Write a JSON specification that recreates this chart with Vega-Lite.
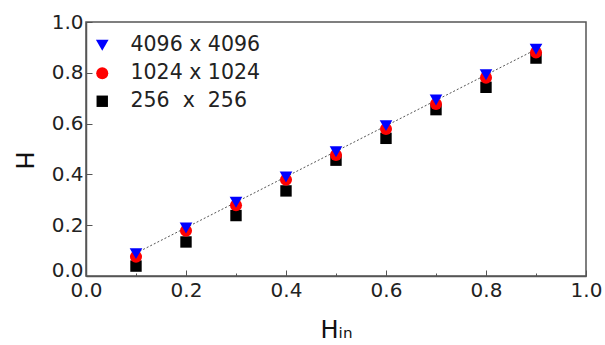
{
  "$schema": "https://vega.github.io/schema/vega-lite/v6.json",
  "width": 500,
  "height": 254,
  "autosize": {"type": "none"},
  "padding": {"left": 86, "top": 22, "right": 19, "bottom": 69},
  "background": "white",
  "config": {
    "font": "DejaVu Sans",
    "view": {"stroke": "#555", "strokeWidth": 1.5},
    "axis": {
      "grid": false,
      "domainColor": "#555",
      "domainWidth": 1.5,
      "tickColor": "#555",
      "labelColor": "#222",
      "labelFontSize": 20,
      "titleFontSize": 24,
      "titleFontWeight": "normal",
      "titleColor": "#111",
      "labelFont": "DejaVu Sans",
      "titleFont": "DejaVu Sans"
    },
    "legend": {
      "title": null,
      "orient": "none",
      "legendX": 6,
      "legendY": 13,
      "labelFontSize": 20.5,
      "labelColor": "#222",
      "labelFont": "DejaVu Sans",
      "symbolStrokeWidth": 0,
      "labelOffset": 18,
      "rowPadding": 7
    }
  },
  "datasets": {
    "pts": [
      {"hin": 0.1, "h": 0.039, "s": "256 x 256"},
      {"hin": 0.2, "h": 0.134, "s": "256 x 256"},
      {"hin": 0.3, "h": 0.238, "s": "256 x 256"},
      {"hin": 0.4, "h": 0.335, "s": "256 x 256"},
      {"hin": 0.5, "h": 0.456, "s": "256 x 256"},
      {"hin": 0.6, "h": 0.542, "s": "256 x 256"},
      {"hin": 0.7, "h": 0.655, "s": "256 x 256"},
      {"hin": 0.8, "h": 0.743, "s": "256 x 256"},
      {"hin": 0.9, "h": 0.858, "s": "256 x 256"},
      {"hin": 0.1, "h": 0.076, "s": "1024 x 1024"},
      {"hin": 0.2, "h": 0.178, "s": "1024 x 1024"},
      {"hin": 0.3, "h": 0.279, "s": "1024 x 1024"},
      {"hin": 0.4, "h": 0.379, "s": "1024 x 1024"},
      {"hin": 0.5, "h": 0.476, "s": "1024 x 1024"},
      {"hin": 0.6, "h": 0.579, "s": "1024 x 1024"},
      {"hin": 0.7, "h": 0.677, "s": "1024 x 1024"},
      {"hin": 0.8, "h": 0.781, "s": "1024 x 1024"},
      {"hin": 0.9, "h": 0.880, "s": "1024 x 1024"},
      {"hin": 0.1, "h": 0.088, "s": "4096 x 4096"},
      {"hin": 0.2, "h": 0.189, "s": "4096 x 4096"},
      {"hin": 0.3, "h": 0.290, "s": "4096 x 4096"},
      {"hin": 0.4, "h": 0.390, "s": "4096 x 4096"},
      {"hin": 0.5, "h": 0.489, "s": "4096 x 4096"},
      {"hin": 0.6, "h": 0.592, "s": "4096 x 4096"},
      {"hin": 0.7, "h": 0.693, "s": "4096 x 4096"},
      {"hin": 0.8, "h": 0.792, "s": "4096 x 4096"},
      {"hin": 0.9, "h": 0.893, "s": "4096 x 4096"}
    ],
    "fit": [
      {"hin": 0.1, "h": 0.09},
      {"hin": 0.9, "h": 0.892}
    ]
  },
  "layer": [
    {
      "data": {"name": "fit"},
      "mark": {"type": "line", "color": "#555", "strokeWidth": 1, "strokeDash": [2, 2]},
      "encoding": {
        "x": {"field": "hin", "type": "quantitative"},
        "y": {"field": "h", "type": "quantitative"}
      }
    },
    {
      "data": {"name": "pts"},
      "mark": {"type": "point", "filled": true, "opacity": 1},
      "encoding": {
        "x": {
          "field": "hin",
          "type": "quantitative",
          "scale": {"domain": [0, 1], "nice": false},
          "axis": {
            "title": "Hᵢₙ",
            "values": [0, 0.1, 0.2, 0.3, 0.4, 0.5, 0.6, 0.7, 0.8, 0.9, 1.0],
            "format": ".1f",
            "labelExpr": "round(datum.value*10) % 2 === 0 ? datum.label : ''",
            "tickSize": {"condition": {"test": "round(datum.value*10) % 2 === 0", "value": -6}, "value": -3},
            "labelPadding": 10,
            "labelFlush": false,
            "titlePadding": 18
          }
        },
        "y": {
          "field": "h",
          "type": "quantitative",
          "scale": {"domain": [0, 1], "nice": false},
          "axis": {
            "title": "H",
            "titleAngle": 90,
            "titleY": 138,
            "values": [0, 0.1, 0.2, 0.3, 0.4, 0.5, 0.6, 0.7, 0.8, 0.9, 1.0],
            "format": ".1f",
            "labelExpr": "round(datum.value*10) % 2 === 0 ? datum.label : ''",
            "labelBaseline": {"condition": {"test": "datum.value === 0", "value": "alphabetic"}, "value": "middle"},
            "tickSize": {"condition": {"test": "round(datum.value*10) % 2 === 0", "value": -6}, "value": -3},
            "labelPadding": 9,
            "labelFlush": false,
            "titlePadding": 41
          }
        },
        "color": {
          "field": "s",
          "type": "nominal",
          "scale": {"domain": ["4096 x 4096", "1024 x 1024", "256 x 256"], "range": ["#0000ff", "#ff0000", "#000000"]},
          "legend": {
            "labelExpr": "datum.label === '256 x 256' ? '\u00a0256\u00a0\u00a0x\u00a0\u00a0256' : datum.label"
          }
        },
        "shape": {
          "field": "s",
          "type": "nominal",
          "scale": {"domain": ["4096 x 4096", "1024 x 1024", "256 x 256"], "range": ["triangle-down", "circle", "square"]},
          "legend": {
            "labelExpr": "datum.label === '256 x 256' ? '\u00a0256\u00a0\u00a0x\u00a0\u00a0256' : datum.label"
          }
        },
        "size": {
          "field": "s",
          "type": "nominal",
          "scale": {"domain": ["4096 x 4096", "1024 x 1024", "256 x 256"], "range": [160, 130, 85]},
          "legend": {
            "labelExpr": "datum.label === '256 x 256' ? '\u00a0256\u00a0\u00a0x\u00a0\u00a0256' : datum.label"
          }
        }
      }
    }
  ]
}
